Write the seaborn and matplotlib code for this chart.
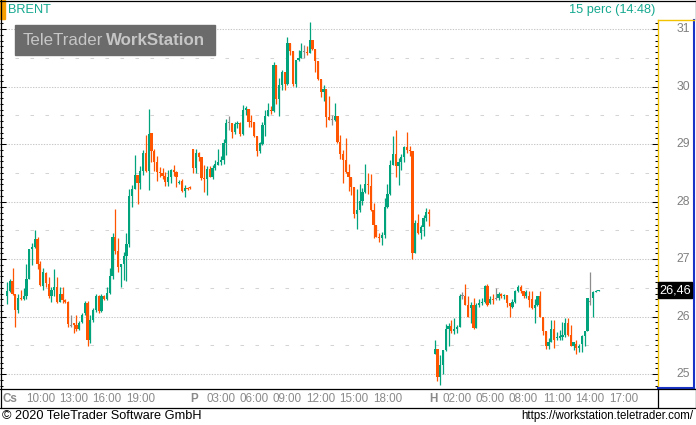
import matplotlib
matplotlib.use("Agg")
import matplotlib.pyplot as plt
import matplotlib.transforms as mtransforms
from matplotlib.lines import Line2D
from matplotlib.patches import Rectangle
from matplotlib.ticker import MultipleLocator
import numpy as np
import pandas as pd
import seaborn as sns

# BRENT 15 perces gyertyak (Cs / P / H)
thu_start = 0
thu_open = [26.35, 26.45, 26.61, 26.40, 26.11, 26.32, 26.30, 26.36, 26.66, 27.17, 27.21, 27.35, 26.91, 26.53,
            26.76, 26.57, 26.35, 26.46, 26.51, 26.26, 26.40, 26.28, 26.26, 25.84, 25.88, 25.85, 25.78, 25.91,
            26.06, 26.23, 25.60, 25.94, 26.11, 26.36, 26.10, 26.36, 26.30, 26.41, 26.70, 27.39, 27.14, 26.87,
            26.91, 27.05, 27.27, 28.10, 28.22, 28.46, 28.33, 28.53, 28.85, 28.53, 29.20, 28.88, 28.69, 28.52,
            28.50, 28.44, 28.34, 28.42, 28.55, 28.52, 28.33, 28.36, 28.19, 28.23, 28.24]
thu_high = [26.60, 26.66, 26.84, 26.40, 26.40, 26.46, 26.50, 26.92, 27.18, 27.28, 27.50, 27.38, 26.96, 26.84,
            26.78, 26.68, 26.51, 26.82, 26.68, 26.52, 26.51, 26.31, 26.27, 26.03, 25.89, 26.03, 25.92, 26.06,
            26.27, 26.27, 26.03, 26.14, 26.40, 26.37, 26.40, 26.38, 26.52, 26.84, 27.45, 27.87, 27.37, 26.92,
            27.13, 27.46, 28.22, 28.28, 28.81, 28.46, 28.61, 28.90, 29.16, 29.61, 29.20, 28.91, 28.79, 28.60,
            28.58, 28.52, 28.54, 28.56, 28.63, 28.53, 28.38, 28.39, 28.29, 28.26, 28.27]
thu_low = [26.22, 26.43, 26.37, 25.81, 26.07, 26.29, 26.28, 26.30, 26.65, 26.90, 27.20, 26.82, 26.53, 26.47,
           26.52, 26.33, 26.26, 26.35, 26.24, 26.26, 26.24, 26.23, 25.82, 25.82, 25.72, 25.75, 25.77, 25.88,
           26.03, 25.49, 25.54, 25.91, 26.08, 26.07, 26.08, 26.28, 26.29, 26.40, 26.66, 27.08, 26.78, 26.52,
           26.64, 26.62, 27.21, 27.90, 28.21, 27.96, 28.22, 28.46, 28.52, 28.20, 28.69, 28.53, 28.35, 28.42,
           28.40, 28.27, 28.27, 28.33, 28.44, 28.26, 28.30, 28.17, 28.08, 28.20, 28.22]
thu_close = [26.45, 26.61, 26.40, 26.11, 26.32, 26.30, 26.36, 26.66, 27.17, 27.21, 27.35, 26.91, 26.55, 26.78,
             26.59, 26.35, 26.46, 26.51, 26.26, 26.40, 26.28, 26.25, 25.87, 25.84, 25.86, 25.78, 25.89, 26.03,
             26.23, 25.60, 25.94, 26.11, 26.36, 26.10, 26.36, 26.30, 26.41, 26.70, 27.39, 27.14, 26.87, 26.91,
             27.05, 27.27, 28.10, 28.22, 28.46, 28.33, 28.53, 28.85, 28.53, 29.17, 28.88, 28.69, 28.52, 28.50,
             28.44, 28.34, 28.42, 28.55, 28.52, 28.43, 28.34, 28.19, 28.23, 28.21, 28.23]

fri_start = 67
fri_open = [28.92, 28.59, 28.85, 28.77, 28.41, 28.39, 28.56, 28.43, 28.58, 28.64, 28.69, 28.72, 29.01, 29.37,
            29.37, 29.21, 29.35, 29.36, 29.17, 29.60, 29.61, 29.39, 29.38, 29.14, 28.88, 29.00, 29.33, 29.49,
            29.59, 29.57, 30.37, 29.79, 30.02, 30.25, 30.04, 30.75, 30.62, 30.04, 30.46, 30.50, 30.60, 30.60,
            30.59, 30.81, 30.65, 30.44, 30.13, 29.90, 29.96, 29.47, 29.42, 29.42, 29.48, 29.04, 28.83, 28.72,
            28.51, 28.42, 28.26, 27.79, 27.86, 28.01, 28.17, 28.30, 28.27, 27.85, 27.59, 27.38, 27.36, 27.41,
            27.90, 28.13, 28.63, 28.82, 28.61, 28.69, 28.78, 28.94, 28.90, 28.88, 27.11, 27.62, 27.45, 27.56,
            27.72, 27.81]
fri_high = [28.92, 28.91, 28.87, 28.77, 28.63, 28.62, 28.62, 28.64, 28.72, 28.91, 28.80, 29.08, 29.43, 29.48,
            29.37, 29.38, 29.40, 29.38, 29.68, 29.67, 29.61, 29.50, 29.39, 29.14, 29.04, 29.38, 29.59, 29.72,
            29.66, 30.43, 30.37, 30.14, 30.29, 30.25, 30.87, 30.75, 30.62, 30.46, 30.63, 30.75, 30.72, 30.70,
            31.13, 30.81, 30.65, 30.44, 30.13, 30.02, 29.96, 29.84, 29.51, 29.71, 29.48, 29.15, 28.90, 29.10,
            28.65, 28.42, 28.26, 28.21, 28.31, 28.24, 28.65, 28.50, 28.48, 27.98, 27.59, 27.46, 27.47, 28.07,
            28.30, 28.72, 29.14, 29.24, 28.75, 28.83, 28.96, 29.21, 28.97, 28.88, 27.68, 27.78, 27.60, 27.76,
            27.88, 27.87]
fri_low = [28.50, 28.50, 28.71, 28.38, 28.17, 28.11, 28.42, 28.40, 28.55, 28.63, 28.64, 28.66, 28.81, 29.24,
           29.10, 29.18, 29.28, 29.14, 29.16, 29.50, 29.30, 29.30, 29.13, 28.80, 28.84, 28.98, 29.14, 29.48,
           29.52, 29.56, 29.69, 29.48, 29.94, 29.94, 30.03, 30.55, 30.01, 29.99, 30.45, 30.49, 30.50, 30.55,
           30.59, 30.63, 30.26, 30.11, 29.82, 29.75, 29.30, 29.42, 29.33, 29.40, 29.01, 28.74, 28.32, 28.49,
           28.19, 28.12, 27.72, 27.52, 27.82, 27.94, 28.14, 28.13, 27.84, 27.37, 27.38, 27.30, 27.24, 27.36,
           27.88, 28.11, 28.63, 28.43, 28.29, 28.55, 28.69, 28.84, 28.80, 27.00, 27.11, 27.44, 27.34, 27.40,
           27.67, 27.57]
fri_close = [28.59, 28.85, 28.78, 28.41, 28.39, 28.56, 28.43, 28.58, 28.65, 28.69, 28.72, 29.01, 29.37, 29.37,
             29.21, 29.35, 29.36, 29.17, 29.60, 29.61, 29.39, 29.38, 29.14, 28.88, 29.01, 29.33, 29.49, 29.59,
             29.57, 30.37, 29.79, 30.02, 30.25, 30.04, 30.75, 30.62, 30.04, 30.46, 30.50, 30.62, 30.60, 30.59,
             30.81, 30.65, 30.44, 30.13, 29.90, 29.96, 29.47, 29.42, 29.42, 29.49, 29.04, 28.83, 28.72, 28.51,
             28.42, 28.26, 27.79, 27.86, 28.01, 28.17, 28.30, 28.29, 27.85, 27.59, 27.38, 27.36, 27.41, 27.90,
             28.13, 28.63, 28.82, 28.61, 28.69, 28.77, 28.94, 28.90, 28.88, 27.11, 27.62, 27.45, 27.56, 27.72,
             27.81, 27.79]

mon_start = 154
mon_open = [25.35, 25.43, 24.94, 25.16, 25.41, 25.79, 25.83, 25.75, 25.79, 25.81, 26.36, 26.36, 26.20, 26.14,
            26.20, 25.80, 26.20, 26.23, 26.25, 26.53, 26.24, 26.30, 26.30, 26.32, 26.39, 26.36, 26.38, 26.24,
            26.16, 26.26, 26.45, 26.52, 26.45, 26.35, 26.36, 26.30, 26.14, 26.20, 26.36, 25.99, 25.74, 25.49,
            25.56, 25.78, 25.62, 25.63, 25.65, 25.68, 25.89, 25.68, 25.49, 25.52, 25.46, 25.52, 25.66, 25.75,
            26.25, 26.33, 26.43, 26.45]
mon_high = [25.59, 25.43, 25.33, 25.42, 25.87, 25.88, 25.94, 25.97, 25.85, 26.39, 26.42, 26.57, 26.36, 26.26,
            26.32, 26.24, 26.30, 26.32, 26.55, 26.57, 26.36, 26.40, 26.49, 26.43, 26.41, 26.40, 26.38, 26.24,
            26.30, 26.47, 26.55, 26.55, 26.45, 26.46, 26.45, 26.45, 26.30, 26.36, 26.45, 25.99, 25.74, 25.62,
            25.94, 25.94, 25.73, 25.76, 25.91, 25.98, 25.98, 25.85, 25.56, 25.59, 25.52, 25.68, 25.75, 26.33,
            26.78, 26.45, 26.47, 26.47]
mon_low = [25.35, 24.88, 24.81, 25.00, 25.40, 25.48, 25.72, 25.70, 25.72, 25.81, 26.30, 26.20, 25.99, 25.88,
           25.78, 25.80, 26.16, 26.20, 26.23, 26.18, 26.22, 26.22, 26.28, 26.29, 26.32, 26.30, 26.17, 25.99,
           26.14, 26.23, 26.43, 26.41, 26.33, 26.32, 26.16, 26.13, 25.88, 26.18, 25.99, 25.68, 25.43, 25.43,
           25.55, 25.46, 25.59, 25.59, 25.60, 25.65, 25.66, 25.48, 25.42, 25.35, 25.39, 25.39, 25.49, 25.75,
           26.20, 26.00, 26.43, 26.44]
mon_close = [25.43, 24.94, 25.16, 25.41, 25.79, 25.83, 25.75, 25.79, 25.81, 26.36, 26.36, 26.20, 25.99, 26.20,
             25.80, 26.20, 26.23, 26.25, 26.53, 26.20, 26.30, 26.28, 26.30, 26.39, 26.36, 26.38, 26.24, 26.18,
             26.26, 26.45, 26.52, 26.45, 26.35, 26.43, 26.29, 26.14, 26.20, 26.36, 25.99, 25.74, 25.49, 25.56,
             25.78, 25.60, 25.65, 25.66, 25.68, 25.89, 25.68, 25.49, 25.55, 25.46, 25.48, 25.66, 25.75, 26.33,
             26.25, 26.43, 26.45, 26.46]

tick_pos = [1.2, 12, 24, 36, 48, 67.5, 77, 89, 101, 113, 125, 137, 153.5, 162, 174, 186, 198, 210, 222]
tick_labels = ["Cs", "10:00", "13:00", "16:00", "19:00", "P", "03:00", "06:00", "09:00", "12:00",
               "15:00", "18:00", "H", "02:00", "05:00", "08:00", "11:00", "14:00", "17:00"]
day_labels = ["Cs", "P", "H"]
price_ticks = [25, 26, 27, 28, 29, 30, 31]
last_price = 26.46

GREEN = "#00a37c"
ORANGE = "#ff5500"
GRAY = "#8c8c8c"
TEAL = "#14a88f"


def session(start, o, h, l, c):
    return pd.DataFrame({"pos": np.arange(start, start + len(o)), "o": o, "h": h, "l": l, "c": c})


df = pd.concat([session(thu_start, thu_open, thu_high, thu_low, thu_close),
                session(fri_start, fri_open, fri_high, fri_low, fri_close),
                session(mon_start, mon_open, mon_high, mon_low, mon_close)], ignore_index=True)
df["color"] = np.where(df.c > df.o, GREEN, np.where(df.c < df.o, ORANGE, GRAY))

sns.set_style("white")
plt.rcParams["font.family"] = ["Liberation Sans", "DejaVu Sans"]

W, H = 696, 425
fig = plt.figure(figsize=(W / 100, H / 100), dpi=100)


def fx(px):
    return px / W


def fy(py):
    return 1 - py / H


ax = fig.add_axes([0, fy(388), fx(656), (388 - 20) / H])
ax.set_xlim(-2.52, 233.7)
ax.set_ylim(24.757, 31.157)
for s in ax.spines.values():
    s.set_visible(False)

# racsvonalak
for v in price_ticks:
    ax.axhline(v, color="#c8c8c8", lw=0.75, ls=(0, (1.3, 1.3)), zorder=0)
    ax.axhline(v + 0.5, color="#d4d4d4", lw=0.75, ls=(0, (3.4, 11)), zorder=0)

# gyertyak
ax.vlines(df.pos, df.l, df.h, colors=df.color, lw=0.9, zorder=2)
body_low = np.minimum(df.o, df.c)
body_h = np.maximum((df.c - df.o).abs(), 0.018)
ax.bar(df.pos, body_h, bottom=body_low, width=0.8, color=df.color, linewidth=0, zorder=3)

ax.yaxis.set_major_locator(MultipleLocator(1))
ax.yaxis.set_minor_locator(MultipleLocator(0.1))
ax.tick_params(axis="y", which="major", direction="in", length=4, width=0.75, color="black",
               left=True, labelleft=False)
ax.tick_params(axis="y", which="minor", direction="in", length=2.2, width=0.75, color="black", left=True)
ax.set_xticks(tick_pos)
ax.set_xticklabels(tick_labels)
ax.tick_params(axis="x", length=0, pad=3.5, labelsize=8.4, labelcolor="#8a8a8a")
for lab in ax.get_xticklabels():
    if lab.get_text() in day_labels:
        lab.set_fontweight("bold")

# jobb oldali skala
rp = fig.add_axes([fx(658), fy(388), fx(694 - 658), (388 - 20) / H])
rp.set_ylim(ax.get_ylim())
rp.set_xlim(0, 1)
rp.set_xticks([])
rp.spines["left"].set_color("#f2c200")
rp.spines["top"].set_color("#f2c200")
rp.spines["right"].set_color("#1a34c8")
rp.spines["bottom"].set_color("#1a34c8")
for s in ["left", "top"]:
    rp.spines[s].set_linewidth(1.0)
for s in ["right", "bottom"]:
    rp.spines[s].set_linewidth(1.5)
rp.yaxis.set_major_locator(MultipleLocator(1))
rp.yaxis.set_minor_locator(MultipleLocator(0.1))
rp.tick_params(axis="y", which="major", direction="out", length=4.3, width=0.75, color="black",
               left=True, labelleft=False)
rp.tick_params(axis="y", which="minor", direction="out", length=2.2, width=0.75, color="black", left=True)
rtr = mtransforms.blended_transform_factory(rp.transAxes, rp.transData)
for v in price_ticks:
    rp.text(0.9, v, str(v), transform=rtr, ha="right", va="center", fontsize=8.8, color="#808080")
rp.add_patch(Rectangle((0, last_price - 0.139), 0.95, 0.278, transform=rtr, color="black",
                       clip_on=False, zorder=5))
rp.text(0.05, last_price, f"{last_price:.2f}".replace(".", ","), transform=rtr, ha="left", va="center",
        fontsize=9.2, color="white", zorder=6)

# fejlec
fig.patches.append(Rectangle((0, fy(19)), fx(5), 19 / H, transform=fig.transFigure, color="#f5a000"))
fig.text(fx(8), fy(10), "BRENT", color=TEAL, fontsize=9.2, va="center", ha="left")
fig.text(fx(655), fy(10), "15 perc (14:48)", color=TEAL, fontsize=9.2, va="center", ha="right")

# vizjel
fig.patches.append(Rectangle((fx(15), fy(55)), fx(200), 30 / H, transform=fig.transFigure,
                             color="#6b6b6b", zorder=4))
fig.text(fx(23), fy(40.5), "TeleTrader", color="#c6c6c6", fontsize=12.2, va="center", ha="left", zorder=5)
fig.text(fx(106), fy(40.5), "WorkStation", color="#c6c6c6", fontsize=12.2, fontweight="bold",
         va="center", ha="left", zorder=5)


# keret vonalak
def fline(x0, y0, x1, y1, color="black", lw=0.9):
    fig.add_artist(Line2D([fx(x0), fx(x1)], [fy(y0), fy(y1)], color=color, lw=lw,
                          transform=fig.transFigure))


fline(0, 0.5, 696, 0.5)
fline(0.5, 0, 0.5, 407.5)
fline(0, 388.5, 696, 388.5)
fline(0, 407.5, 696, 407.5)
fline(657.5, 388.5, 657.5, 407.5)
fline(695.5, 0, 695.5, 20)
fline(695.5, 388, 695.5, 407.5)

# lablec
fig.text(fx(2), fy(416), "\u00a9 2020 TeleTrader Software GmbH", color="black", fontsize=9.2,
         va="center", ha="left")
fig.text(fx(693), fy(416.5), "https://workstation.teletrader.com/", color="black", fontsize=8.3,
         va="center", ha="right")

fig.savefig("out.png", dpi=100)
